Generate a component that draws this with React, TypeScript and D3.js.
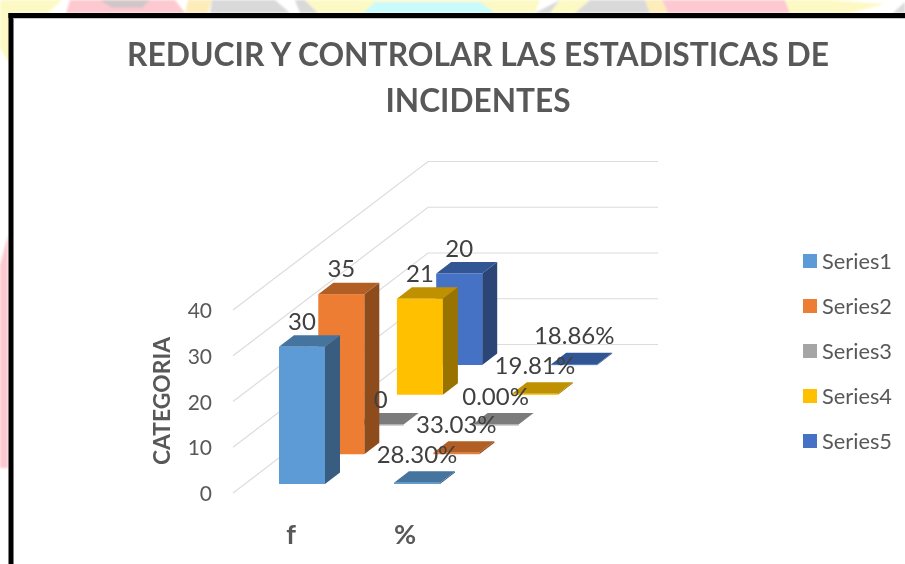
import React from "react";
import * as d3 from "d3";

const categories = ["f", "%"];
const seriesNames = ["Series1", "Series2", "Series3", "Series4", "Series5"];
const fValues = [30, 35, 0, 21, 20];
const pctValues = [0.283, 0.3303, 0, 0.1981, 0.1886];
const fLabels = ["30", "35", "0", "21", "20"];
const pctLabels = ["28.30%", "33.03%", "0.00%", "19.81%", "18.86%"];
const frontColors = ["#5b9bd5", "#ed7d31", "#a5a5a5", "#ffc000", "#4472c4"];
const topColors = ["#44749f", "#b25e25", "#7c7c7c", "#bf9000", "#335593"];
const sideColors = ["#375d81", "#8e4b1d", "#636363", "#997300", "#294476"];
const yTicks = [0, 10, 20, 30, 40];

const W = 905, H = 564;
const height = d3.scaleLinear().domain([0, 40]).range([0, 183]);
const catX = d3.scaleLinear().domain([0, 1]).range([279, 394]);
const depthX = d3.scaleLinear().domain([0, 4]).range([0, 157.2]);
const depthBase = d3.scaleLinear().domain([0, 4]).range([484, 365]);
const barW = 46, capDx = 15, capDy = 11.5;
const wallDx = 195, wallDy = 148.5, axisX = 233, axisY0 = 493, backEnd = 658;
const legendY = d3.scalePoint<string>().domain(seriesNames).range([261, 441]);

const pts = (a: number[][]) => a.map((p) => p.join(",")).join(" ");
const bgShapes: [string, number[][]][] = [
  ["#fdf9c4", [[0, 0], [62, 0], [48, 13], [13, 13], [13, 70], [0, 48]]],
  ["#fdc9d0", [[70, 0], [175, 0], [185, 13], [66, 13]]],
  ["#d3c6c8", [[100, 0], [150, 0], [142, 8], [112, 8]]],
  ["#fdedbb", [[188, 0], [212, 0], [208, 13], [185, 13]]],
  ["#d9d9d9", [[212, 0], [275, 0], [290, 13], [210, 13]]],
  ["#d9d9d9", [[295, 0], [305, 0], [318, 13], [300, 13]]],
  ["#fdf9c4", [[305, 0], [540, 0], [535, 13], [318, 13]]],
  ["#c9fbfb", [[375, 2], [480, 2], [495, 13], [363, 13]]],
  ["#d9d9d9", [[560, 0], [535, 13], [550, 13]]],
  ["#fdf9c4", [[560, 0], [590, 0], [575, 13], [550, 13]]],
  ["#d9d9d9", [[590, 0], [645, 0], [650, 13], [575, 13]]],
  ["#fdedbb", [[645, 0], [662, 0], [668, 13], [650, 13]]],
  ["#fdc9d0", [[662, 0], [785, 0], [790, 13], [668, 13]]],
  ["#fdf9c4", [[785, 0], [830, 0], [885, 4], [850, 13], [790, 13]]],
  ["#d9d9d9", [[905, 2], [905, 13], [893, 13]]],
  ["#fdc9d0", [[8, 235], [8, 468], [0, 468], [0, 265]]],
];

function Bar({ cat, s, value }: { cat: number; s: number; value: number }) {
  const x0 = catX(cat) + depthX(s);
  const x1 = x0 + barW;
  const yb = depthBase(s);
  const yt = yb - height(value);
  return (
    <g>
      <polygon points={pts([[x1, yt], [x1 + capDx, yt - capDy], [x1 + capDx, yb - capDy], [x1, yb]])} fill={sideColors[s]} />
      <polygon points={pts([[x0, yt], [x1, yt], [x1 + capDx, yt - capDy], [x0 + capDx, yt - capDy]])} fill={topColors[s]} />
      <rect x={x0} y={yt} width={barW} height={Math.max(yb - yt, 1)} fill={frontColors[s]} />
    </g>
  );
}

export default function App() {
  const all = categories.flatMap((_, c) =>
    seriesNames.map((_, s) => ({
      cat: c,
      s,
      value: c === 0 ? fValues[s] : pctValues[s],
      label: c === 0 ? fLabels[s] : pctLabels[s],
    }))
  );
  const order = [...all].sort((a, b) => b.s - a.s || b.cat - a.cat);
  return (
    <svg width={W} height={H} viewBox={`0 0 ${W} ${H}`} style={{ position: "absolute", left: 0, top: 0, fontFamily: "Lato" }}>
      <defs>
        <filter id="soft" x="-5%" y="-5%" width="110%" height="110%"><feGaussianBlur stdDeviation="1" /></filter>
        <filter id="softer" x="-5%" y="-5%" width="110%" height="110%"><feGaussianBlur stdDeviation="0.35" /></filter>
      </defs>
      <rect width={W} height={H} fill="#fff" />
      <g filter="url(#soft)">
        {bgShapes.map(([c, p], i) => <polygon key={i} points={pts(p)} fill={c} />)}
      </g>
      <rect x={13} y={18} width={W - 13} height={H - 18} fill="#fff" />
      <rect x={8.5} y={13} width={W} height={5} fill="#000" />
      <rect x={8.5} y={13} width={5} height={H} fill="#000" />
      <rect x={13.5} y={18} width={W} height={1} fill="#c8c8c8" />

      <g filter="url(#softer)">
        <text x={478} y={65.5} textAnchor="middle" fontSize={32} fontWeight={700} fill="#595959" textLength={702} lengthAdjust="spacingAndGlyphs">REDUCIR Y CONTROLAR LAS ESTADISTICAS DE</text>
        <text x={478} y={111.5} textAnchor="middle" fontSize={32} fontWeight={700} fill="#595959" textLength={185} lengthAdjust="spacingAndGlyphs">INCIDENTES</text>

        {yTicks.map((t) => {
          const yl = axisY0 - height(t);
          return (
            <g key={t}>
              <polyline points={pts([[axisX, yl], [axisX + wallDx, yl - wallDy], [backEnd, yl - wallDy]])} fill="none" stroke="#dcdcdc" strokeWidth={1.2} />
              <text x={212} y={yl + 8} textAnchor="end" fontSize={21} fill="#595959">{t}</text>
            </g>
          );
        })}

        <text transform="translate(170,401) rotate(-90)" textAnchor="middle" fontSize={23} fontWeight={700} fill="#595959" textLength={128} lengthAdjust="spacingAndGlyphs">CATEGORIA</text>

        {order.map((d) => <Bar key={`${d.cat}-${d.s}`} cat={d.cat} s={d.s} value={d.value} />)}

        {all.map((d) => {
          const x = catX(d.cat) + depthX(d.s) + barW / 2;
          const y = depthBase(d.s) - height(d.value) - (d.cat === 0 ? 17 : 20);
          return <text key={`l${d.cat}-${d.s}`} x={x} y={y} textAnchor="middle" fontSize={24} fill="#404040">{d.label}</text>;
        })}

        {categories.map((c, i) => (
          <text key={c} x={catX(i) + (i === 0 ? 12 : 11)} y={544} textAnchor="middle" fontSize={27} fontWeight={700} fill="#595959">{c}</text>
        ))}

        {seriesNames.map((n, i) => (
          <g key={n}>
            <rect x={803} y={legendY(n)! - 7} width={14} height={14} fill={frontColors[i]} />
            <text x={822} y={legendY(n)! + 7.5} fontSize={21.5} fill="#595959" textLength={70} lengthAdjust="spacingAndGlyphs">{n}</text>
          </g>
        ))}
      </g>
    </svg>
  );
}
